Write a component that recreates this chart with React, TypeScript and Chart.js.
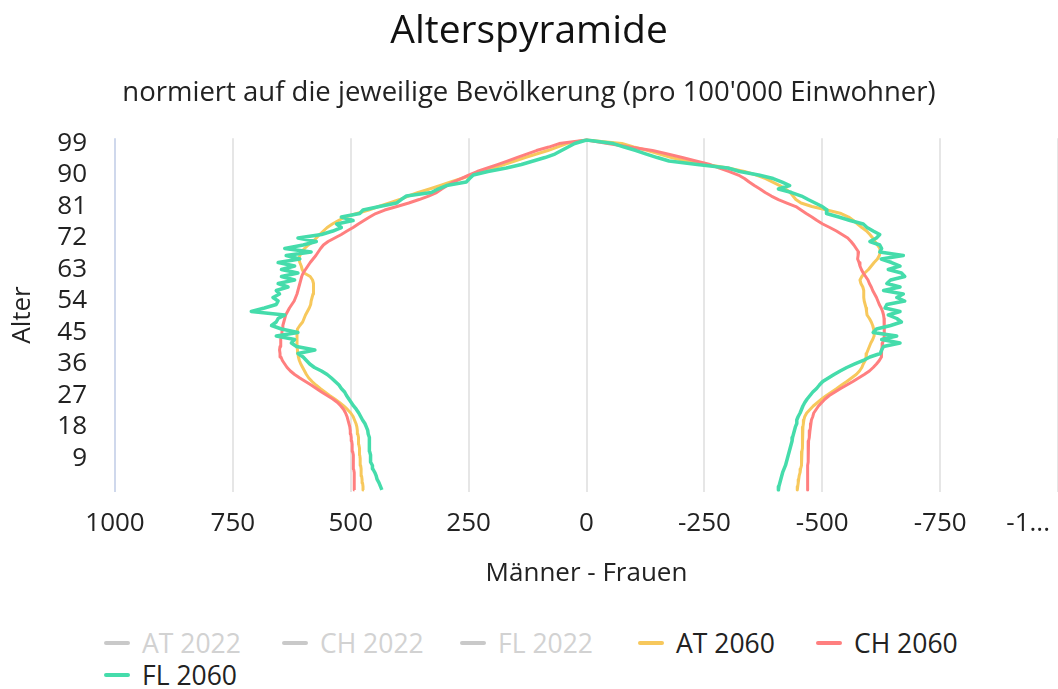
import React, { useEffect, useRef } from "react";
import { Chart, registerables } from "chart.js";

Chart.register(...registerables);

// ---- data (ages 0..100, values per 100'000 inhabitants) ----
const AGES: number[] = Array.from({ length: 101 }, (_, i) => i);
const Y_TICKS = [9, 18, 27, 36, 45, 54, 63, 72, 81, 90, 99];
const X_TICKS = [1000, 750, 500, 250, 0, -250, -500, -750, -1000];
const X_LAST_LABEL = "-1...";

const TITLE = "Alterspyramide";
const SUBTITLE = "normiert auf die jeweilige Bevölkerung (pro 100'000 Einwohner)";
const X_TITLE = "Männer - Frauen";
const Y_TITLE = "Alter";

const LEGEND_LABELS = ["AT 2022", "CH 2022", "FL 2022", "AT 2060", "CH 2060", "FL 2060"];
const LEGEND_HIDDEN = [true, true, true, false, false, false];
const LEGEND_COLORS = ["#c9c9c9", "#c9c9c9", "#c9c9c9", "#f7c85c", "#ff7f7f", "#45dcab"];

// Männer (men), index = age
const AT_2060_M = [
  472, 474, 475, 476, 477, 478, 478, 479, 480, 480, 481, 481, 482, 483, 483, 484, 485, 486, 487, 489,
  492, 495, 500, 507, 515, 524, 534, 545, 555, 565, 574, 582, 589, 594, 598, 602, 606, 609, 611, 612,
  613, 614, 614, 614, 614, 614, 613, 608, 602, 599, 596, 592, 588, 585, 584, 582, 580, 578, 579, 580,
  581, 586, 599, 603, 605, 608, 610, 608, 604, 598, 590, 580, 573, 566, 558, 550, 539, 526, 512, 487,
  462, 441, 418, 396, 378, 357, 333, 310, 288, 265, 243, 220, 198, 175, 152, 130, 106, 82, 62, 42, 0,
];
const CH_2060_M = [
  492, 492, 492, 493, 493, 493, 494, 494, 494, 495, 495, 496, 497, 497, 498, 499, 500, 501, 502, 504,
  506, 508, 511, 515, 521, 528, 538, 550, 562, 573, 584, 596, 608, 619, 628, 635, 640, 645, 648, 650,
  651, 650, 649, 648, 647, 646, 645, 644, 642, 640, 638, 634, 630, 625, 620, 617, 614, 612, 610, 608,
  606, 604, 601, 596, 591, 586, 580, 574, 569, 564, 558, 548, 534, 520, 508, 495, 484, 472, 460, 447,
  428, 402, 377, 355, 335, 318, 307, 295, 283, 266, 250, 232, 210, 189, 168, 148, 127, 106, 80, 58, 0,
];
const FL_2060_M = [
  434, 437, 440, 444, 446, 449, 453, 454, 458, 458, 458, 460, 461, 460, 460, 461, 463, 464, 467, 470,
  475, 479, 483, 488, 494, 499, 504, 509, 513, 520, 525, 533, 541, 550, 562, 577, 587, 594, 601, 612,
  576, 615, 626, 619, 658, 612, 647, 668, 658, 654, 640, 711, 683, 658, 654, 665, 651, 658, 633, 654,
  619, 647, 612, 647, 619, 654, 608, 637, 584, 640, 601, 573, 612, 562, 538, 520, 530, 495, 520, 481,
  474, 439, 403, 393, 382, 329, 315, 297, 255, 248, 240, 209, 170, 138, 113, 88, 67, 53, 39, 25, 0,
];

// Frauen (women), index = age, shown on the negative side
const AT_2060_F = [
  447, 448, 449, 450, 451, 453, 454, 455, 456, 456, 457, 457, 458, 458, 458, 458, 458, 458, 459, 460,
  461, 463, 467, 474, 481, 490, 499, 509, 520, 531, 541, 552, 562, 572, 579, 584, 587, 591, 593, 594,
  597, 600, 603, 607, 610, 610, 609, 607, 604, 600, 595, 594, 593, 591, 589, 588, 588, 588, 586, 582,
  580, 584, 590, 598, 604, 610, 617, 621, 623, 622, 617, 612, 607, 601, 594, 584, 575, 566, 556, 540,
  510, 478, 455, 444, 438, 432, 422, 410, 395, 380, 360, 335, 300, 255, 210, 180, 155, 130, 100, 75, 0,
];
const CH_2060_F = [
  469, 469, 469, 469, 469, 469, 469, 469, 470, 470, 470, 470, 470, 471, 471, 472, 473, 474, 475, 476,
  477, 480, 482, 487, 492, 499, 506, 515, 527, 539, 552, 565, 577, 589, 600, 608, 615, 621, 625, 626,
  626, 627, 628, 630, 631, 632, 632, 632, 631, 631, 630, 628, 625, 621, 618, 615, 611, 607, 604, 600,
  597, 592, 587, 583, 580, 578, 575, 576, 577, 572, 567, 561, 554, 542, 530, 516, 501, 489, 478, 466,
  455, 444, 425, 407, 392, 379, 368, 356, 345, 335, 322, 303, 282, 262, 232, 203, 172, 140, 92, 45, 0,
];
const FL_2060_F = [
  407, 408, 410, 412, 414, 416, 419, 422, 424, 426, 428, 430, 432, 434, 436, 437, 439, 441, 443, 446,
  446, 449, 453, 456, 459, 463, 468, 474, 480, 488, 494, 501, 513, 525, 538, 552, 569, 587, 601, 623,
  626, 630, 665, 626, 658, 608, 615, 645, 668, 658, 640, 665, 633, 637, 675, 658, 672, 630, 665, 637,
  645, 675, 668, 640, 665, 647, 625, 672, 622, 626, 622, 601, 615, 622, 608, 595, 587, 559, 535, 509,
  510, 500, 485, 470, 456, 435, 407, 431, 415, 396, 365, 325, 300, 235, 175, 150, 127, 105, 80, 57, 0,
];

const FONT = "'Open Sans', 'DejaVu Sans', sans-serif";
const TEXT = "#222222";

function pyramid(men: number[], women: number[]) {
  const pts: { x: number; y: number }[] = [];
  AGES.forEach((a) => pts.push({ x: men[a], y: a }));
  for (let i = AGES.length - 2; i >= 0; i--) {
    const a = AGES[i];
    pts.push({ x: -women[a], y: a });
  }
  return pts;
}

const lastLabelPlugin = {
  id: "lastLabel",
  afterDraw(chart: any) {
    const xs = chart.scales.x;
    const items = xs.getLabelItems ? xs.getLabelItems() : xs._labelItems;
    if (!items || !items.length) return;
    const it = items[0];
    const ctx = chart.ctx;
    ctx.save();
    ctx.font = it.font.string;
    ctx.fillStyle = TEXT;
    ctx.textAlign = "right";
    ctx.textBaseline = it.options.textBaseline || "middle";
    ctx.fillText(X_LAST_LABEL, 1050, it.options.translation[1] + it.textOffset);
    ctx.restore();
  },
};

export default function App() {
  const ref = useRef<HTMLCanvasElement | null>(null);

  useEffect(() => {
    if (!ref.current) return;
    const chart = new Chart(ref.current, {
      type: "scatter",
      data: {
        datasets: [
          {
            label: LEGEND_LABELS[5],
            data: pyramid(FL_2060_M, FL_2060_F),
            borderColor: LEGEND_COLORS[5],
            borderWidth: 3.5,
            order: 0,
          },
          {
            label: LEGEND_LABELS[4],
            data: pyramid(CH_2060_M, CH_2060_F),
            borderColor: LEGEND_COLORS[4],
            borderWidth: 3,
            order: 1,
          },
          {
            label: LEGEND_LABELS[3],
            data: pyramid(AT_2060_M, AT_2060_F),
            borderColor: LEGEND_COLORS[3],
            borderWidth: 3,
            order: 2,
          },
        ].map((d) => ({
          ...d,
          showLine: true,
          pointRadius: 0,
          pointHoverRadius: 0,
          tension: 0,
          fill: false,
          borderJoinStyle: "round",
          backgroundColor: d.borderColor,
        })) as any,
      },
      options: {
        responsive: false,
        animation: false,
        devicePixelRatio: 1,
        layout: { padding: 0 },
        plugins: {
          legend: { display: false },
          tooltip: { enabled: false },
          title: {
            display: true,
            text: TITLE,
            color: "#111111",
            font: { family: FONT, size: 39, weight: "500" as any, lineHeight: 1.2 },
            padding: { top: 8.5, bottom: 0 },
          },
          subtitle: {
            display: true,
            text: SUBTITLE,
            color: TEXT,
            font: { family: FONT, size: 27.5, lineHeight: 1.2 },
            padding: { top: 21, bottom: 29 },
          },
        },
        scales: {
          x: {
            type: "linear",
            reverse: true,
            min: -1000,
            max: 1000,
            afterBuildTicks: (s: any) => {
              s.ticks = X_TICKS.map((v) => ({ value: v }));
            },
            afterFit: (s: any) => {
              s.height = 108.3;
              s.paddingLeft = 0;
              s.paddingRight = 0;
            },
            ticks: {
              color: TEXT,
              font: { family: FONT, size: 26 },
              padding: 16,
              maxRotation: 0,
              autoSkip: false,
              callback: (v: any) => (Number(v) === -1000 ? "" : String(v)),
            },
            grid: {
              drawTicks: false,
              lineWidth: 2,
              color: (c: any) => (c.tick && c.tick.value === 1000 ? "#cfd8ec" : "#e6e6e6"),
            },
            border: { display: false },
            title: {
              display: true,
              text: X_TITLE,
              color: TEXT,
              font: { family: FONT, size: 26, lineHeight: 1.2 },
              padding: { top: 0, bottom: 11 },
            },
          },
          y: {
            type: "linear",
            min: -0.5,
            max: 100.5,
            afterBuildTicks: (s: any) => {
              s.ticks = Y_TICKS.map((v) => ({ value: v }));
            },
            afterFit: (s: any) => {
              s.width = 115;
            },
            ticks: {
              color: TEXT,
              font: { family: FONT, size: 26 },
              padding: 28,
              autoSkip: false,
            },
            grid: { display: false, drawTicks: false },
            border: { display: false },
            title: {
              display: true,
              text: Y_TITLE,
              color: TEXT,
              font: { family: FONT, size: 26, lineHeight: 1.2 },
              padding: { top: 7, bottom: 0 },
            },
          },
        },
      } as any,
      plugins: [lastLabelPlugin],
    });
    return () => chart.destroy();
  }, []);

  return (
    <div
      style={{
        position: "fixed",
        left: 0,
        top: 0,
        width: 1058,
        height: 689,
        background: "#ffffff",
        overflow: "hidden",
      }}
    >
      <canvas ref={ref} width={1058} height={600} style={{ display: "block", width: 1058, height: 600 }} />
      <div
        style={{
          position: "absolute",
          left: 104,
          top: 627,
          width: 900,
          display: "flex",
          flexWrap: "wrap",
        }}
      >
        {LEGEND_LABELS.map((lab, i) => (
          <div
            key={lab}
            style={{ width: 178, height: 32, display: "flex", alignItems: "center" }}
          >
            <span
              style={{
                display: "inline-block",
                width: 26,
                height: 4,
                borderRadius: 2,
                background: LEGEND_COLORS[i],
                marginRight: 12,
              }}
            />
            <span
              style={{
                fontFamily: FONT,
                fontSize: 26.5,
                lineHeight: "32px",
                color: LEGEND_HIDDEN[i] ? "#d2d2d2" : TEXT,
                whiteSpace: "nowrap",
              }}
            >
              {lab}
            </span>
          </div>
        ))}
      </div>
    </div>
  );
}
